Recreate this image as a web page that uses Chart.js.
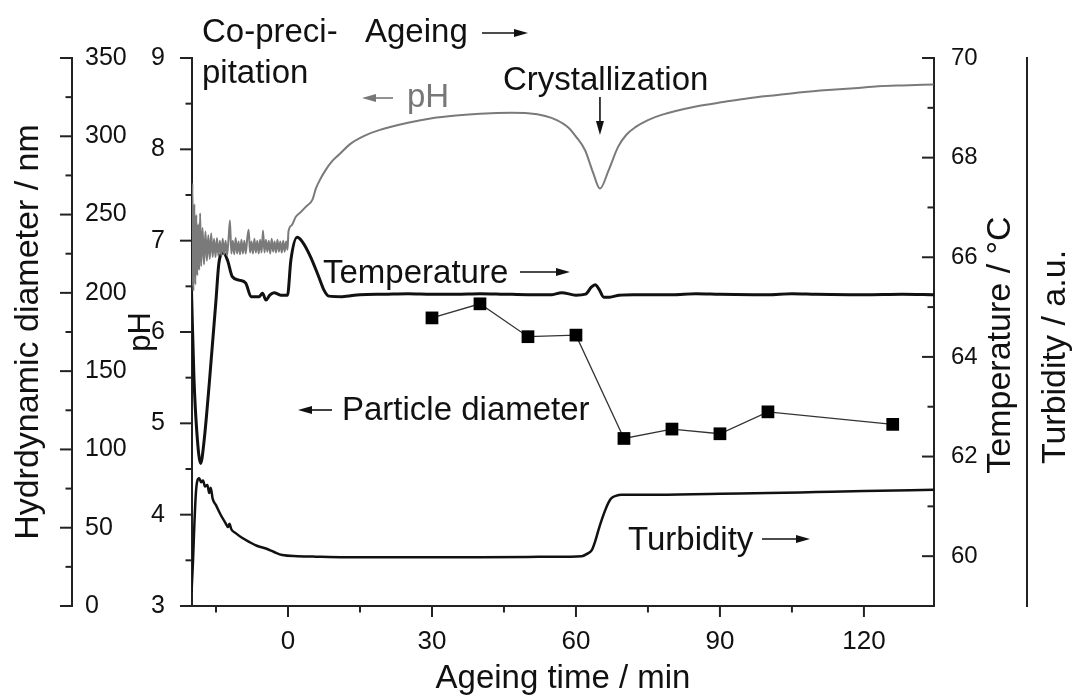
<!DOCTYPE html>
<html>
<head>
<meta charset="utf-8">
<script src="https://cdn.jsdelivr.net/npm/chart.js@4.4.0/dist/chart.umd.min.js"></script>
<style>
  html, body { margin: 0; padding: 0; background: #fff; }
  #wrap { width: 1075px; height: 697px; position: relative; }
</style>
</head>
<body>
<div id="wrap"><canvas id="chart"></canvas></div>
<script>
// pH, grey curve (left pH axis)
const phTime = [-20.1, -19.9, -19.7, -19.5, -19.3, -19.1, -18.9, -18.7, -18.5, -18.3, -18.1, -17.8, -17.5, -17.2, -16.9,
  -16.6, -16.3, -16.0, -15.7, -15.4, -15.1, -14.8, -14.5, -14.2, -13.9, -13.6, -13.3, -13.0, -12.7, -12.4, -12.1,
  -11.8, -11.5, -11.2, -10.9, -10.6, -10.3, -10.0, -9.7, -9.4, -9.1, -8.8, -8.5, -8.2, -7.9, -7.6, -7.3, -7.0,
  -6.7, -6.4, -6.1, -5.8, -5.5, -5.2, -4.9, -4.6, -4.3, -4.0, -3.7, -3.4, -3.1, -2.8, -2.5, -2.2, -1.9, -1.6,
  -1.3, -1.0, -0.7, -0.4, -0.1,
  0.1, 0.8, 1.6, 2.6, 3.7, 5.1, 5.8, 6.8, 7.8, 9.2, 10.6, 13, 16, 19, 25, 30, 35, 40, 46.6, 50, 53.6, 56, 58.4,
  60, 61.9, 63.6, 65, 66.8, 68.8, 70.5, 72.3, 75, 78, 85, 91, 96, 102, 107, 112.5, 118, 123, 128, 134.5];
const phValue = [6.5, 7.62, 6.45, 7.4, 6.52, 7.28, 6.62, 7.18, 6.68, 7.3, 6.72, 7.14, 6.74, 7.1, 6.78,
  7.06, 6.8, 7.08, 6.82, 7.02, 6.82, 7.03, 6.83, 7.0, 6.84, 7.02, 6.85, 7.0, 6.84, 7.01, 7.22,
  6.86, 7.0, 6.85, 7.03, 6.86, 6.99, 6.85, 7.01, 6.86, 7.0, 6.86, 7.02, 7.12, 6.87, 6.99, 6.86, 7.02,
  6.87, 7.0, 6.86, 7.01, 6.87, 7.11, 6.87, 7.01, 6.88, 7.0, 6.86, 7.02, 6.88, 6.99, 6.87, 7.01, 6.88, 6.99,
  6.87, 7.0, 6.88, 6.99, 6.9,
  7.1, 7.17, 7.26, 7.31, 7.37, 7.45, 7.57, 7.68, 7.77, 7.87, 7.94, 8.06, 8.15, 8.21, 8.29, 8.34, 8.37, 8.39, 8.4, 8.395, 8.365, 8.32, 8.24,
  8.14, 7.99, 7.74, 7.57, 7.77, 8.03, 8.16, 8.24, 8.32, 8.38, 8.47, 8.52, 8.56, 8.595, 8.625, 8.65, 8.67, 8.69, 8.7, 8.71];

// temperature / °C (right axis)
const tempTime = [-20.1, -19.6, -19.0, -18.2, -17.5, -16.4, -15.0, -14.4, -13.5, -12.6, -11.6, -10.2, -8.8, -7.7, -6.0,
  -5.3, -4.6, -3.8, -2.9, -1.5, -0.1, 0.6, 1.9, 3.0, 4.7, 6.4, 7.5, 8.5, 11.3, 15, 20, 25, 30, 35, 40, 45, 50, 55,
  57, 60, 62, 63.2, 64, 64.8, 65.8, 67, 69, 72, 80, 85, 90, 100, 105, 110, 120, 128, 134.6];
const tempValue = [65.3, 63.6, 62.5, 61.86, 62.3, 63.47, 65.14, 65.88, 66.09, 65.94, 65.61, 65.54, 65.48, 65.21, 65.21,
  65.28, 65.14, 65.24, 65.29, 65.24, 65.24, 65.94, 66.4, 66.31, 66.01, 65.61, 65.34, 65.22, 65.21, 65.25, 65.26, 65.27, 65.26, 65.26, 65.27, 65.26, 65.25, 65.25,
  65.29, 65.24, 65.26, 65.4, 65.45, 65.36, 65.2, 65.2, 65.24, 65.25, 65.25, 65.27, 65.26, 65.25, 65.27, 65.26, 65.25, 65.26, 65.25];

// turbidity / a.u.
const turbTime = [-20.1, -19.8, -19.5, -19.2, -18.9, -18.5, -18.1, -17.7, -17.3, -16.8, -16.4, -16.1, -15.7, -15.0, -14.0,
  -13.0, -12.5, -12.2, -11.8, -10.9, -9.5, -8.1, -6.5, -4.6, -3.0, -1.2, 2, 5.8, 12, 19.6, 30, 40, 50, 55, 61.2,
  62.5, 63.3, 64, 64.7, 65.4, 66.1, 66.8, 67.4, 68.3, 69.5, 75, 90, 100, 110, 120, 134.6];
const turbValue = [2.5, 8, 15, 20.5, 22.8, 23.3, 22.6, 22.9, 21.8, 22.1, 20.6, 21.6, 19.6, 18.4, 16.6,
  15.1, 14.4, 15.0, 14.0, 13.3, 12.4, 11.7, 11.0, 10.5, 9.9, 9.3, 9.1, 9.0, 8.9, 8.9, 8.9, 8.9, 8.95, 9.0, 9.1,
  9.6, 10.2, 11.8, 13.9, 15.8, 17.5, 18.9, 19.7, 20.1, 20.3, 20.3, 20.5, 20.6, 20.8, 21.0, 21.2];

// hydrodynamic particle diameter / nm
const sizeTime = [30, 40, 50, 60, 70, 80, 90, 100, 126];
const sizeValue = [184, 193, 172, 173, 107, 113, 110, 124, 116];

// ticks
const timeTicks = [0, 30, 60, 90, 120];
const timeMinor = [-15, 15, 45, 75, 105];
const phTicks = [3, 4, 5, 6, 7, 8, 9];
const phMinor = [3.5, 4.5, 5.5, 6.5, 7.5, 8.5];
const sizeTicks = [0, 50, 100, 150, 200, 250, 300, 350];
const sizeMinor = [25, 75, 125, 175, 225, 275, 325];
const tempTicks = [60, 62, 64, 66, 68, 70];
const tempMinor = [59, 61, 63, 65, 67, 69];

const FONT = '"Liberation Sans", Arial, sans-serif';
Chart.defaults.font.family = FONT;
Chart.defaults.color = '#111';

function pairs(ts, vs) {
  return ts.map((t, i) => ({ x: t, y: vs[i] }));
}
function fixTicks(values) {
  return (scale) => { scale.ticks = values.map(v => ({ value: v })); };
}

const axisBorder = { display: true, color: '#222', width: 2 };

// major + minor tick marks, drawn against the scales
const tickMarks = {
  id: 'tickMarks',
  afterDraw(chart) {
    const { ctx, scales } = chart;
    ctx.save();
    ctx.strokeStyle = '#222';
    ctx.lineWidth = 2;
    function vert(scale, x0, dir, major, minor) {
      [[major, 12], [minor, 6.5]].forEach(([vals, len]) => {
        vals.forEach(v => {
          const y = scale.getPixelForValue(v);
          ctx.beginPath();
          ctx.moveTo(x0, y);
          ctx.lineTo(x0 + dir * len, y);
          ctx.stroke();
        });
      });
    }
    vert(scales.size, scales.size.right, -1, sizeTicks, sizeMinor);
    vert(scales.ph, scales.ph.right, -1, phTicks, phMinor);
    vert(scales.temp, scales.temp.left, -1, tempTicks, tempMinor);
    const xs = scales.x;
    [[timeTicks, 11], [timeMinor, 6.5]].forEach(([vals, len]) => {
      vals.forEach(v => {
        const x = xs.getPixelForValue(v);
        ctx.beginPath();
        ctx.moveTo(x, xs.top);
        ctx.lineTo(x, xs.top + len);
        ctx.stroke();
      });
    });
    ctx.restore();
  }
};

function arrow(ctx, x1, y1, x2, y2, color) {
  const a = Math.atan2(y2 - y1, x2 - x1);
  const hl = 14, hw = 4;
  ctx.strokeStyle = color;
  ctx.fillStyle = color;
  ctx.lineWidth = 1.6;
  ctx.beginPath();
  ctx.moveTo(x1, y1);
  ctx.lineTo(x2 - hl * 0.6 * Math.cos(a), y2 - hl * 0.6 * Math.sin(a));
  ctx.stroke();
  ctx.beginPath();
  ctx.moveTo(x2, y2);
  ctx.lineTo(x2 - hl * Math.cos(a) + hw * Math.sin(a), y2 - hl * Math.sin(a) - hw * Math.cos(a));
  ctx.lineTo(x2 - hl * Math.cos(a) - hw * Math.sin(a), y2 - hl * Math.sin(a) + hw * Math.cos(a));
  ctx.closePath();
  ctx.fill();
}

const notes = {
  id: 'notes',
  afterDraw(chart) {
    const { ctx, scales } = chart;
    ctx.save();
    ctx.font = '33px ' + FONT;
    ctx.textBaseline = 'alphabetic';
    ctx.textAlign = 'left';
    ctx.fillStyle = '#111';
    ctx.fillText('Co-preci-', 202, 42);
    ctx.fillText('pitation', 202, 83);
    ctx.fillText('Ageing', 365, 42);
    ctx.fillText('Crystallization', 503, 90);
    ctx.fillText('Temperature', 323, 283);
    ctx.fillText('Particle diameter', 342, 420);
    ctx.fillText('Turbidity', 628, 550);
    ctx.fillStyle = '#777';
    ctx.fillText('pH', 407, 107);

    arrow(ctx, 482, 33, 528, 33, '#111');
    arrow(ctx, 393, 98, 362, 98, '#777');
    const cx = scales.x.getPixelForValue(65);
    arrow(ctx, cx, 97, cx, 135, '#111');
    arrow(ctx, 520, 272, 570, 272, '#111');
    arrow(ctx, 332, 410, 298, 410, '#111');
    arrow(ctx, 762, 539, 810, 539, '#111');

    // right-hand axis titles read bottom to top
    ctx.font = '34px ' + FONT;
    ctx.fillStyle = '#111';
    ctx.textAlign = 'center';
    ctx.textBaseline = 'middle';
    [['Temperature / \u00B0C', 1001, 345], ['Turbidity / a.u.', 1056, 357]].forEach(([t, x, y]) => {
      ctx.save();
      ctx.translate(x, y);
      ctx.rotate(-Math.PI / 2);
      ctx.fillText(t, 0, 0);
      ctx.restore();
    });
    ctx.restore();
  }
};

const ctx = document.getElementById('chart').getContext('2d');
new Chart(ctx, {
  type: 'line',
  data: {
    datasets: [
      {
        label: 'pH',
        data: pairs(phTime, phValue),
        yAxisID: 'ph',
        borderColor: '#7a7a7a',
        borderWidth: 2,
        pointRadius: 0,
        cubicInterpolationMode: 'monotone'
      },
      {
        label: 'Temperature',
        data: pairs(tempTime, tempValue),
        yAxisID: 'temp',
        borderColor: '#111',
        borderWidth: 3,
        pointRadius: 0,
        cubicInterpolationMode: 'monotone'
      },
      {
        label: 'Turbidity',
        data: pairs(turbTime, turbValue),
        yAxisID: 'turb',
        borderColor: '#111',
        borderWidth: 2.5,
        pointRadius: 0,
        cubicInterpolationMode: 'monotone'
      },
      {
        label: 'Particle diameter',
        data: pairs(sizeTime, sizeValue),
        yAxisID: 'size',
        borderColor: '#333',
        borderWidth: 1.3,
        pointStyle: 'rect',
        pointRadius: 9,
        pointBackgroundColor: '#000',
        pointBorderColor: '#000',
        pointBorderWidth: 0
      }
    ]
  },
  options: {
    responsive: true,
    maintainAspectRatio: false,
    animation: false,
    layout: { padding: { top: 58, left: 0, right: 0, bottom: 0 } },
    plugins: { legend: { display: false }, tooltip: { enabled: false } },
    scales: {
      x: {
        type: 'linear',
        position: 'bottom',
        min: -20,
        max: 134.6,
        grid: { display: false },
        border: axisBorder,
        afterBuildTicks: fixTicks(timeTicks),
        afterFit: (s) => { s.height = 91; },
        ticks: { font: { size: 26 }, padding: 12, maxRotation: 0, callback: (v) => String(v) },
        title: { display: true, text: 'Ageing time / min', font: { size: 33 }, padding: { top: 0, bottom: -2 } }
      },
      size: {
        type: 'linear',
        position: 'left',
        weight: 1,
        min: 0,
        max: 350,
        grid: { display: false },
        border: axisBorder,
        afterBuildTicks: fixTicks(sizeTicks),
        afterFit: (s) => { s.width = 72; },
        ticks: { mirror: true, padding: 13, font: { size: 25 }, callback: (v) => String(v) },
        title: { display: true, text: 'Hydrdynamic diameter / nm', font: { size: 34 }, padding: { top: 8, bottom: 0 } }
      },
      ph: {
        type: 'linear',
        position: 'left',
        weight: 0,
        min: 3,
        max: 9,
        grid: { display: false },
        border: axisBorder,
        afterBuildTicks: fixTicks(phTicks),
        afterFit: (s) => { s.width = 120; },
        ticks: { padding: 19, font: { size: 25 }, callback: (v) => String(v) },
        title: { display: true, text: 'pH', font: { size: 31 }, padding: { top: 51, bottom: 0 } }
      },
      temp: {
        type: 'linear',
        position: 'right',
        weight: 0,
        min: 59,
        max: 70,
        grid: { display: false },
        border: axisBorder,
        afterBuildTicks: fixTicks(tempTicks),
        afterFit: (s) => { s.width = 93; },
        ticks: { padding: 9, font: { size: 24 }, callback: (v) => String(v) }
      },
      turb: {
        type: 'linear',
        position: 'right',
        weight: 1,
        min: 0,
        max: 100,
        grid: { display: false },
        border: axisBorder,
        afterFit: (s) => { s.width = 48; },
        ticks: { display: false }
      }
    }
  },
  plugins: [tickMarks, notes]
});
</script>
</body>
</html>
